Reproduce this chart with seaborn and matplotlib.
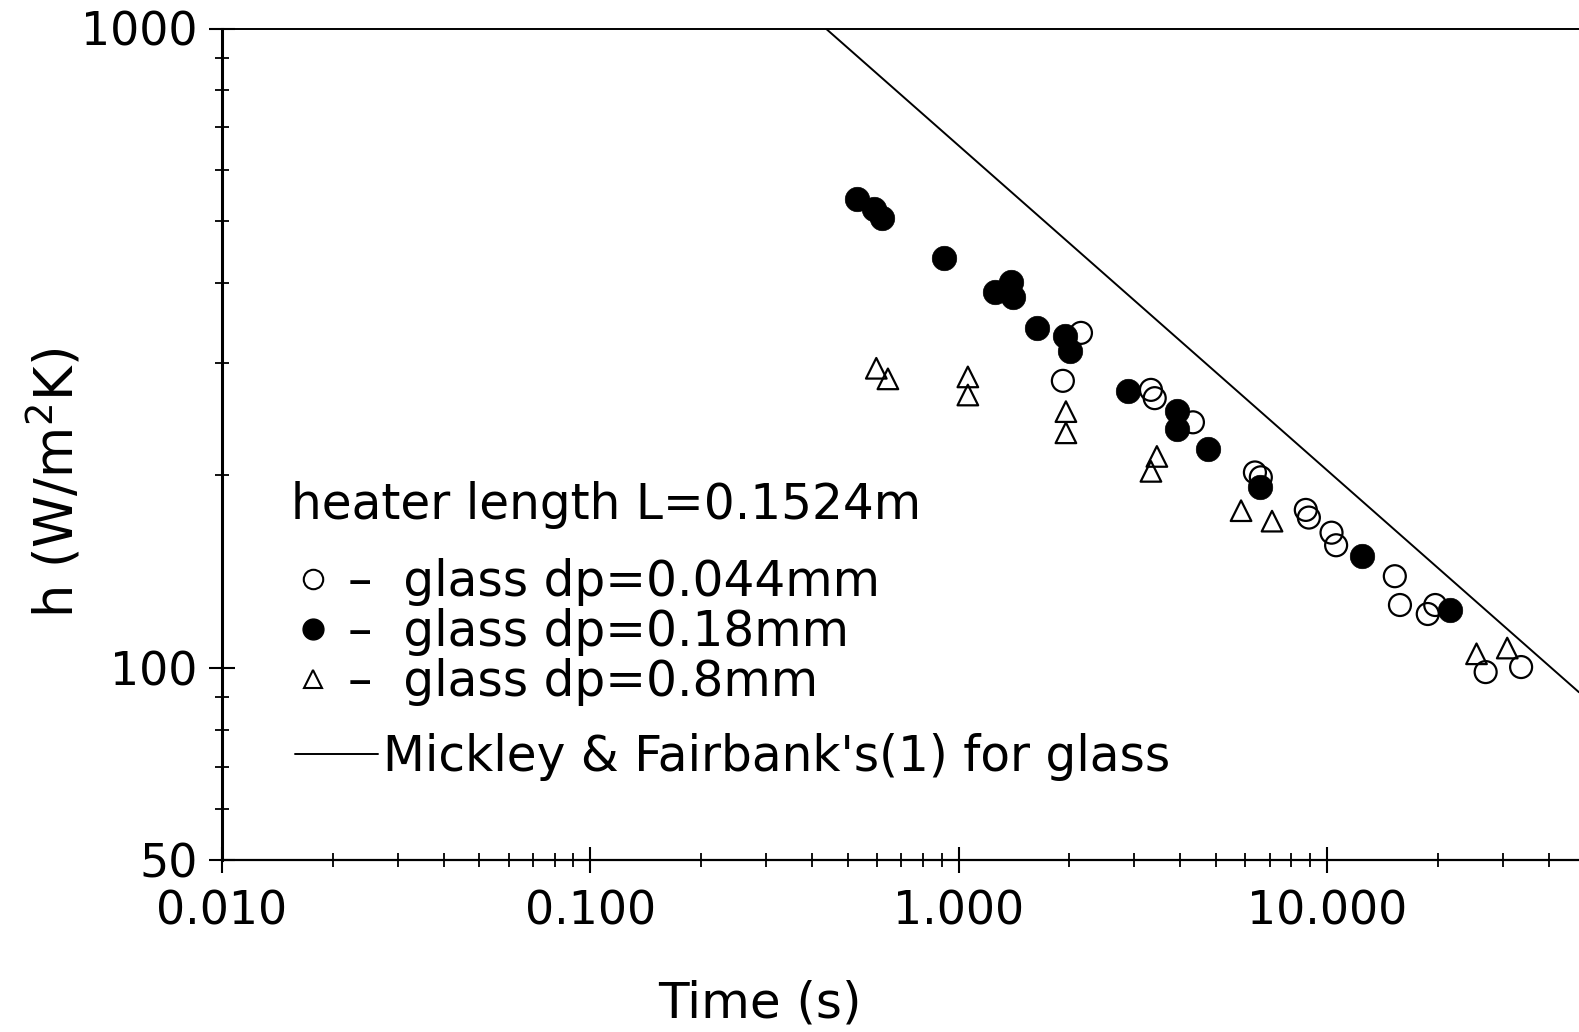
import matplotlib
matplotlib.use("Agg")
import matplotlib.pyplot as plt
from matplotlib.lines import Line2D
from matplotlib.ticker import LogLocator, NullFormatter, FixedLocator, FixedFormatter
import seaborn as sns
import pandas as pd

# heat transfer coefficient vs. contact time, three glass particle sizes
t_044 = [2.15, 1.92, 3.33, 3.41, 4.33, 6.38, 6.62, 8.77, 8.94, 10.3, 10.6,
         15.3, 15.8, 19.7, 18.8, 27.0, 33.7]
h_044 = [334, 281, 272, 264, 242, 202, 198.5, 176.5, 171.7, 162.6, 155.4,
         139, 125.3, 125.3, 121.3, 98.4, 100.2]

t_018 = [0.530, 0.589, 0.619, 0.912, 1.256, 1.388, 1.405, 1.630, 1.945, 2.006,
         2.884, 3.918, 3.918, 4.747, 6.58, 12.5, 21.6]
h_018 = [542, 521, 506, 437, 387, 401, 380, 340, 330, 313,
         271, 252, 236, 220, 192, 149.5, 123]

t_08 = [0.598, 0.643, 1.06, 1.06, 1.957, 1.957, 3.456, 3.33, 5.85, 7.1, 25.5, 30.9]
h_08 = [294, 283, 285, 267, 251.5, 233, 214, 202.8, 176, 169.5, 105.1, 107.3]

# Mickley & Fairbank correlation for glass (end points of the straight line)
mf_t = [0.436, 48.4]
mf_h = [1000, 91.5]

labels = ["–  glass dp=0.044mm", "–  glass dp=0.18mm", "–  glass dp=0.8mm"]
line_label = "Mickley & Fairbank's(1) for glass"
title_text = "heater length L=0.1524m"

xticks = [0.01, 0.1, 1, 10]
xticklabels = ["0.010", "0.100", "1.000", "10.000"]
yticks = [50, 100, 1000]
yticklabels = ["50", "100", "1000"]

sns.set_theme(style="ticks")
plt.rcParams["font.family"] = ["DejaVu Sans"]
plt.rcParams["mathtext.fontset"] = "dejavusans"
plt.rcParams["text.color"] = "black"
plt.rcParams["axes.labelcolor"] = "black"

FS = 33
LFS = 35
fig = plt.figure(figsize=(15.79, 10.32), dpi=100)
ax = fig.add_axes([222 / 1579, 1 - 860 / 1032, 1357 / 1579, (860 - 28.5) / 1032])
ax.set_xscale("log")
ax.set_yscale("log")

df_044 = pd.DataFrame({"t": t_044, "h": h_044})
df_018 = pd.DataFrame({"t": t_018, "h": h_018})
df_08 = pd.DataFrame({"t": t_08, "h": h_08})
df_mf = pd.DataFrame({"t": mf_t, "h": mf_h})

sns.lineplot(data=df_mf, x="t", y="h", color="black", lw=1.4, ax=ax, legend=False)
sns.scatterplot(data=df_044, x="t", y="h", marker="o", s=250, facecolor="none",
                edgecolor="black", linewidth=1.6, ax=ax, legend=False, zorder=3)
sns.scatterplot(data=df_08, x="t", y="h", marker="^", s=220, facecolor="none",
                edgecolor="black", linewidth=1.6, ax=ax, legend=False, zorder=3)
sns.scatterplot(data=df_018, x="t", y="h", marker="o", s=310, color="black",
                edgecolor="black", linewidth=0.5, ax=ax, legend=False, zorder=4)

ax.set_xlim(0.01, 48.4)
ax.set_ylim(50, 1000)

ax.xaxis.set_major_locator(FixedLocator(xticks))
ax.xaxis.set_major_formatter(FixedFormatter(xticklabels))
ax.xaxis.set_minor_locator(LogLocator(base=10, subs=range(2, 10)))
ax.xaxis.set_minor_formatter(NullFormatter())
ax.yaxis.set_major_locator(FixedLocator(yticks))
ax.yaxis.set_major_formatter(FixedFormatter(yticklabels))
ax.yaxis.set_minor_locator(LogLocator(base=10, subs=range(2, 10)))
ax.yaxis.set_minor_formatter(NullFormatter())

ax.tick_params(which="both", direction="inout", color="black", labelcolor="black")
ax.tick_params(which="major", length=19, width=1.5, labelsize=FS)
ax.tick_params(axis="x", which="major", pad=12)
ax.tick_params(axis="y", which="major", pad=8)
ax.tick_params(which="minor", length=10, width=1.3)

for side in ["left", "bottom", "top"]:
    ax.spines[side].set_color("black")
ax.spines["left"].set_linewidth(2.2)
ax.spines["bottom"].set_linewidth(1.6)
ax.spines["top"].set_linewidth(1.4)
ax.spines["right"].set_visible(False)

ax.set_xlabel("Time (s)", fontsize=36, color="black", va="center")
ax.xaxis.set_label_coords(0.3965, -0.172)
ax.set_ylabel("h (W/m$^2$K)", fontsize=38, color="black", va="center")
ax.yaxis.set_label_coords(-0.1228, 0.4534)

ax.text(0.0508, 0.4106, title_text, transform=ax.transAxes, fontsize=LFS,
        va="baseline", ha="left", color="black")

handles = [
    Line2D([], [], marker="o", ls="none", markersize=14, markerfacecolor="none",
           markeredgecolor="black", markeredgewidth=1.5),
    Line2D([], [], marker="o", ls="none", markersize=15, markerfacecolor="black",
           markeredgecolor="black"),
    Line2D([], [], marker="^", ls="none", markersize=13, markerfacecolor="none",
           markeredgecolor="black", markeredgewidth=1.5),
]
leg1 = ax.legend(handles, labels, loc="upper left", bbox_to_anchor=(0.0563, 0.3632),
                 frameon=False, fontsize=LFS, handlelength=0.6, handletextpad=0.42,
                 labelspacing=0.04, borderpad=0, borderaxespad=0, labelcolor="black")
ax.add_artist(leg1)
line_handle = [Line2D([], [], color="black", lw=1.4)]
ax.legend(line_handle, [line_label], loc="center left", bbox_to_anchor=(0.0538, 0.1239),
          frameon=False, fontsize=LFS, handlelength=1.71, handletextpad=0.1,
          borderpad=0, borderaxespad=0, labelcolor="black")

fig.savefig("out.png", dpi=100, facecolor="white")
